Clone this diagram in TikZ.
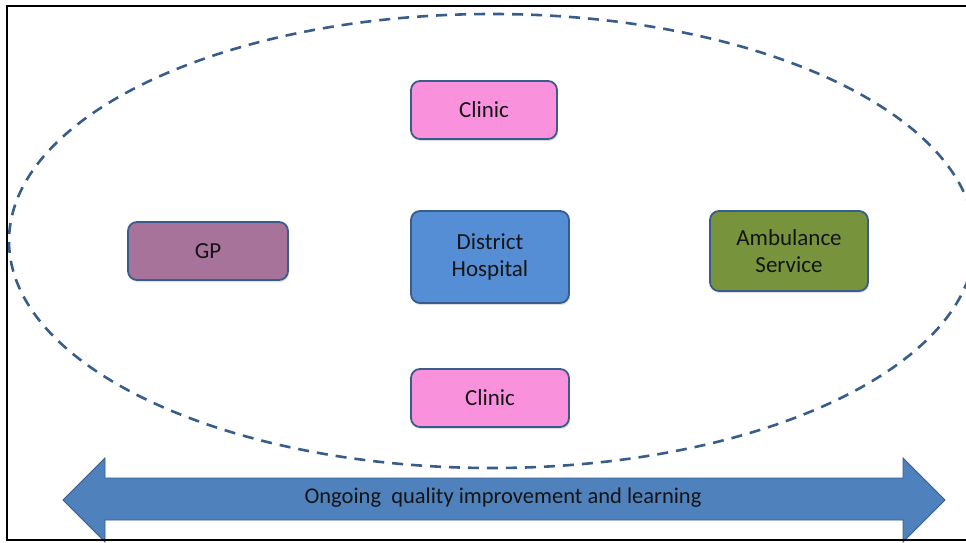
\documentclass[tikz,border=0pt]{standalone}
\usepackage{fontspec}
\setmainfont{Carlito}
\usetikzlibrary{shadows}
\definecolor{pinkfill}{HTML}{F991DD}
\definecolor{bluefill}{HTML}{558ED5}
\definecolor{mauvefill}{HTML}{A8739B}
\definecolor{greenfill}{HTML}{77933C}
\definecolor{edgeblue}{HTML}{385D8A}
\definecolor{arrowfill}{HTML}{4F81BD}
\definecolor{textdark}{HTML}{141414}
\tikzset{
  unitbox/.style={draw=edgeblue, line width=1.8pt, rounded corners=9pt,
    align=center, text=textdark, font=\fontsize{23}{27.5}\selectfont,
    inner sep=0pt,
    drop shadow={shadow xshift=1pt, shadow yshift=-2pt, opacity=0.25}},
}
\begin{document}
\begin{tikzpicture}[x=1pt,y=-1pt]
\useasboundingbox (0,0) rectangle (966,542);
\clip (0,0) rectangle (966,542);
% dashed ellipse
\draw[edgeblue, line width=2.6pt, dash pattern=on 11pt off 8pt] (492,241) ellipse [x radius=483, y radius=227];
% nodes
\node[unitbox, fill=pinkfill, minimum width=146pt, minimum height=58pt] (clinicA) at (484,110) {Clinic};
\node[unitbox, fill=bluefill, minimum width=158pt, minimum height=92pt] (hospital) at (490,257) {District\\Hospital};
\node[unitbox, fill=mauvefill, minimum width=160pt, minimum height=58pt] (gp) at (208,251) {GP};
\node[unitbox, fill=greenfill, minimum width=158pt, minimum height=80pt] (amb) at (789,251) {Ambulance\\Service};
\node[unitbox, fill=pinkfill, minimum width=158pt, minimum height=58pt] (clinicB) at (490,398) {Clinic};
% double arrow
\coordinate (ltip) at (63,500);
\coordinate (rtip) at (945,500);
\fill[arrowfill, draw=edgeblue, line width=0.8pt]
  (ltip) -- (105,458) -- (105,478) -- (903,478) -- (903,458) -- (rtip)
  -- (903,542) -- (903,520) -- (105,520) -- (105,542) -- cycle;
\node[text=textdark, font=\fontsize{22.5}{26}\selectfont] (qi) at (503,498) {Ongoing\ \ quality improvement and learning};
% frame
\draw[black, line width=2.8pt] (7,6) rectangle (980,540);
\end{tikzpicture}
\end{document}
